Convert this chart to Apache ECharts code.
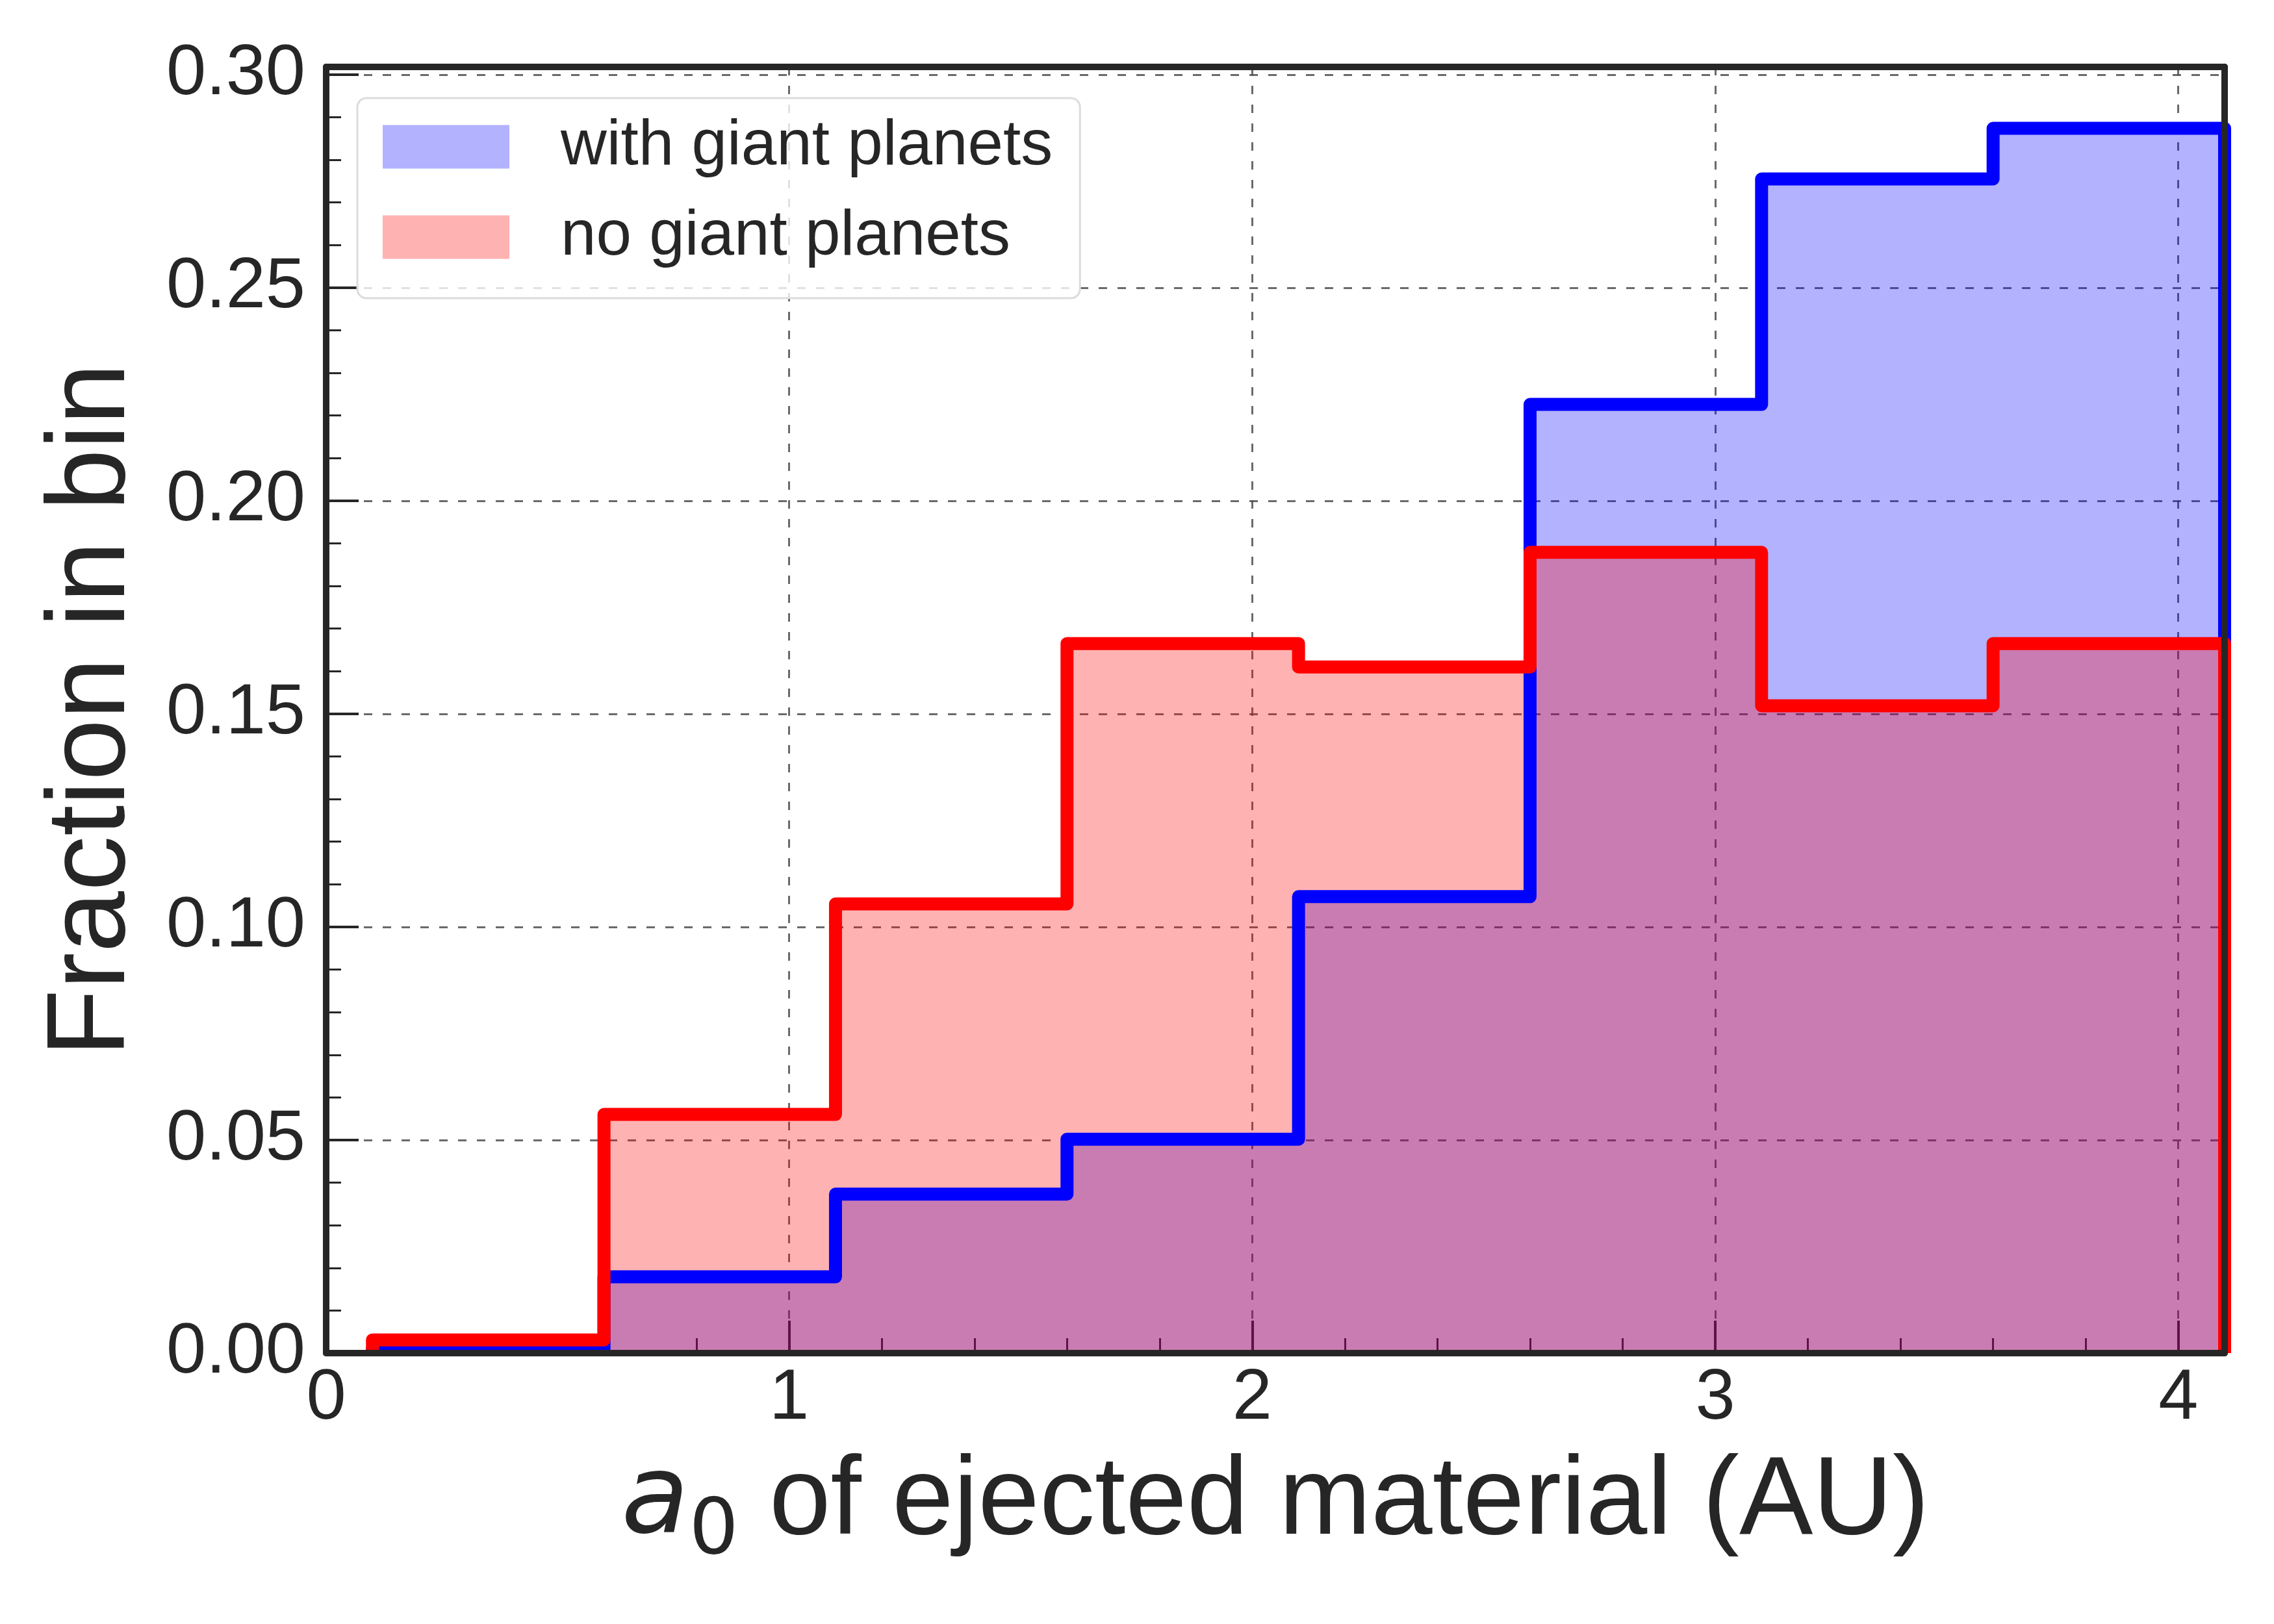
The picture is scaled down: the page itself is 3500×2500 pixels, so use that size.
<!DOCTYPE html>
<html>
<head>
<meta charset="utf-8">
<script src="https://cdn.jsdelivr.net/npm/echarts@6/dist/echarts.min.js"></script>
<style>
  html, body { margin: 0; padding: 0; background: #fff; }
  #chart { width: 3500px; height: 2500px; }
</style>
</head>
<body>
<div id="chart"></div>
<script>
// bin edges (AU) and fraction of ejected material in each bin
const binEdges = [0.1, 0.6, 1.1, 1.6, 2.1, 2.6, 3.1, 3.6, 4.1];
const withGiants = [0.001, 0.0179, 0.0373, 0.0502, 0.1071, 0.2226, 0.2755, 0.2874];
const noGiants = [0.0031, 0.0560, 0.1054, 0.1665, 0.1610, 0.1879, 0.1519, 0.1665];
const seriesNames = ["with giant planets", "no giant planets"];
const xTicks = [0, 1, 2, 3, 4];
const yTicks = [0, 0.05, 0.1, 0.15, 0.2, 0.25, 0.3];
const xRange = [0, 4.1];
const yRange = [0, 0.3018];

const ink = "#262626";
const font = "Liberation Sans";

// outline of a histogram: up at first edge, across each bin, down at last edge
function stepPoints(values) {
  const last = binEdges.length - 1;
  const pts = [[binEdges[0], 0]];
  values.forEach((v, i) => pts.push([binEdges[i], v]));
  pts.push([binEdges[last], values[values.length - 1]]);
  pts.push([binEdges[last], 0]);
  return pts;
}

// only the frame line, drawn above the series
function spine(position, range) {
  return {
    type: "value", position: position, min: range[0], max: range[1], z: 5,
    axisLine: { show: true, onZero: false, lineStyle: { color: ink, width: 10 } },
    axisTick: { show: false }, axisLabel: { show: false }, splitLine: { show: false }
  };
}

// minor ticks on their own axis so the last short interval stays clean
function minorAxis(position, range, step) {
  return {
    type: "value", position: position, min: range[0], max: range[1], interval: step,
    axisLine: { show: false, onZero: false },
    axisTick: { show: true, inside: true, length: 23, lineStyle: { color: ink, width: 3 } },
    axisLabel: { show: false }, splitLine: { show: false }
  };
}

const grid = "rgba(80,80,80,0.85)";

let chart = echarts.init(document.getElementById("chart"));
chart.setOption({
  animation: false,
  backgroundColor: "#fff",
  grid: { left: 502, right: 76, top: 103, bottom: 417, containLabel: false },
  legend: {
    left: 550, top: 151,
    orient: "vertical",
    selectedMode: false,
    padding: [26, 42, 45, 39],
    itemWidth: 195, itemHeight: 67, itemGap: 41,
    backgroundColor: "rgba(255,255,255,0.8)",
    borderColor: "#dcdcdc", borderWidth: 3, borderRadius: 14,
    textStyle: { fontFamily: font, fontSize: 98, color: ink, padding: [0, 0, 0, 74] },
    data: [
      { name: seriesNames[0], icon: "rect", itemStyle: { color: "#b2b2ff", borderWidth: 0, opacity: 1 } },
      { name: seriesNames[1], icon: "rect", itemStyle: { color: "#ffb2b2", borderWidth: 0, opacity: 1 } }
    ]
  },
  xAxis: [
    {
      type: "value", position: "bottom", min: xRange[0], max: xRange[1],
      interval: xTicks[1] - xTicks[0],
      name: "{i|a}{s|0}{n| of ejected material (AU)}",
      nameLocation: "middle", nameGap: 126,
      nameTextStyle: {
        fontFamily: font, fontSize: 170, color: ink,
        rich: {
          i: { fontFamily: "DejaVu Sans", fontStyle: "italic", fontSize: 170, color: ink },
          s: { fontFamily: "DejaVu Sans", fontSize: 120, color: ink, padding: [91, 0, 0, 0] },
          n: { fontFamily: font, fontSize: 170, color: ink }
        }
      },
      axisLine: { show: false, onZero: false },
      axisTick: { show: true, inside: true, length: 50, lineStyle: { color: ink, width: 4 } },
      axisLabel: { show: true, margin: 16, fontFamily: font, fontSize: 110, color: ink, showMaxLabel: false },
      splitLine: { show: true, lineStyle: { color: grid, width: 3, type: [13, 16] } }
    },
    minorAxis("bottom", xRange, 0.2),
    spine("bottom", xRange),
    spine("top", xRange)
  ],
  yAxis: [
    {
      type: "value", position: "left", min: yRange[0], max: yRange[1],
      interval: yTicks[1] - yTicks[0],
      name: "Fraction in bin",
      nameLocation: "middle", nameGap: 273,
      nameTextStyle: { fontFamily: font, fontSize: 170, color: ink },
      axisLine: { show: false, onZero: false },
      axisTick: { show: true, inside: true, length: 50, lineStyle: { color: ink, width: 4 } },
      axisLabel: {
        show: true, margin: 32, fontFamily: font, fontSize: 110, color: ink, showMaxLabel: false,
        formatter: v => v.toFixed(2)
      },
      splitLine: { show: true, lineStyle: { color: grid, width: 3, type: [13, 16] } }
    },
    minorAxis("left", yRange, 0.01),
    spine("left", yRange),
    spine("right", yRange)
  ],
  series: [
    {
      name: seriesNames[0], type: "line", step: "end", z: 2,
      xAxisIndex: 0, yAxisIndex: 0,
      data: stepPoints(withGiants), symbol: "none", color: "#0000ff",
      lineStyle: { width: 0, opacity: 0 },
      areaStyle: { color: "#0000ff", opacity: 0.3 }
    },
    {
      name: seriesNames[1], type: "line", step: "end", z: 2,
      xAxisIndex: 0, yAxisIndex: 0,
      data: stepPoints(noGiants), symbol: "none", color: "#ff0000",
      lineStyle: { width: 0, opacity: 0 },
      areaStyle: { color: "#ff0000", opacity: 0.3 }
    },
    {
      name: seriesNames[0] + " edge", type: "line", step: "end", z: 3,
      xAxisIndex: 0, yAxisIndex: 0,
      data: stepPoints(withGiants), symbol: "none",
      lineStyle: { color: "#0000ff", width: 20, join: "round", cap: "butt" }
    },
    {
      name: seriesNames[1] + " edge", type: "line", step: "end", z: 3,
      xAxisIndex: 0, yAxisIndex: 0,
      data: stepPoints(noGiants), symbol: "none",
      lineStyle: { color: "#ff0000", width: 20, join: "round", cap: "butt" }
    }
  ]
});
</script>
</body>
</html>
